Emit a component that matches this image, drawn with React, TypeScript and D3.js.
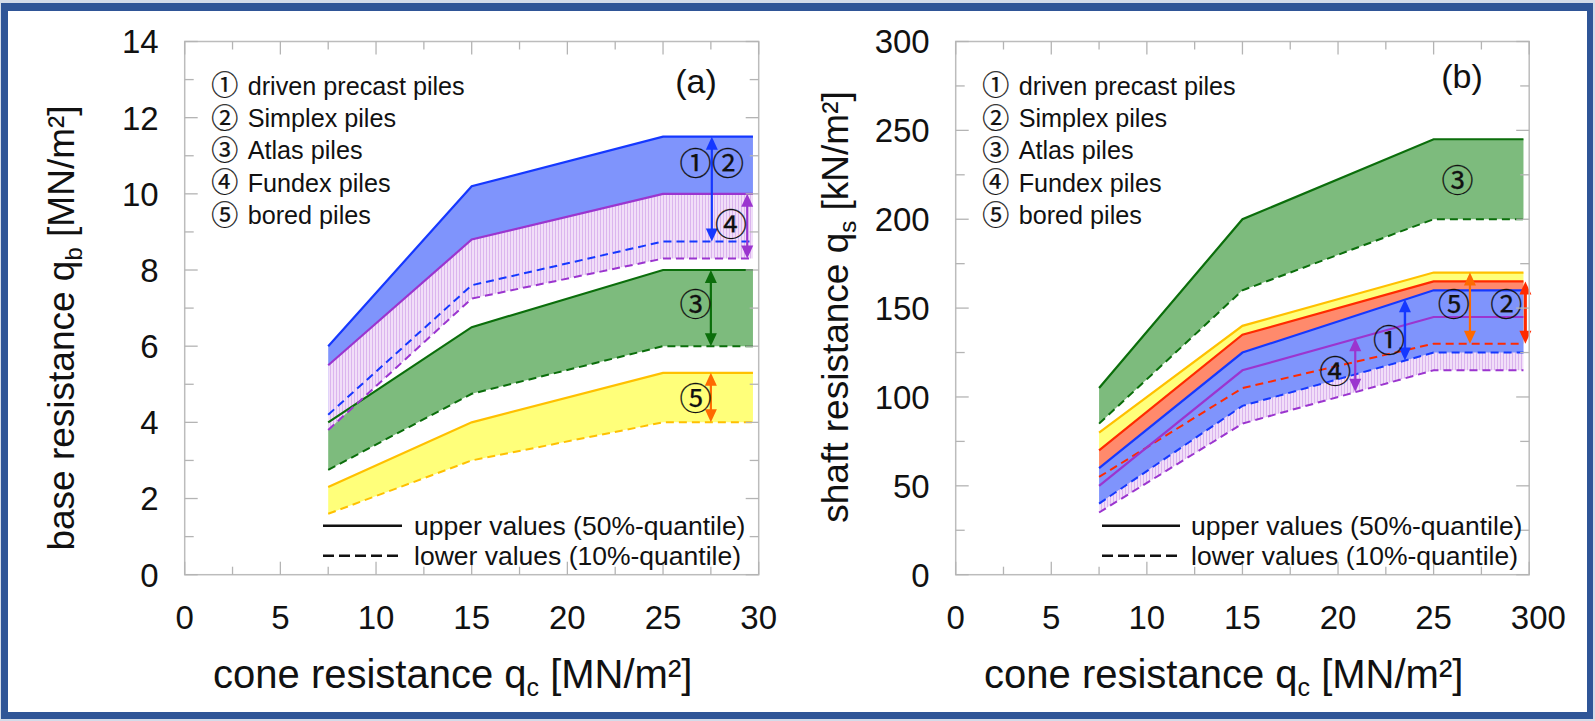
import React from 'react';
import * as d3 from 'd3';

const W = 1595;
const H = 721;

// ---------- data ----------
const qcPoints = [7.5, 15, 25, 29.7];

// panel (a) base resistance [MN/m²]
const aDrivenUpper = [6.0, 10.2, 11.5, 11.5];
const aDrivenLower = [4.2, 7.6, 8.75, 8.75];
const aFundexUpper = [5.5, 8.8, 10.0, 10.0];
const aFundexLower = [3.8, 7.25, 8.3, 8.3];
const aAtlasUpper = [4.0, 6.5, 8.0, 8.0];
const aAtlasLower = [2.75, 4.75, 6.0, 6.0];
const aBoredUpper = [2.3, 4.0, 5.3, 5.3];
const aBoredLower = [1.6, 3.0, 4.0, 4.0];

// panel (b) shaft resistance [kN/m²]
const bAtlasUpper = [105, 200, 245, 245];
const bAtlasLower = [85, 160, 200, 200];
const bBoredUpper = [80, 140, 170, 170];
const bBoredLower = [55, 105, 130, 130];
const bSimplexUpper = [70, 135, 165, 165];
const bSimplexLower = [55, 105, 130, 130];
const bDrivenUpper = [60, 125, 160, 160];
const bDrivenLower = [40, 95, 125, 125];
const bFundexUpper = [50, 115, 145, 145];
const bFundexLower = [35, 85, 115, 115];

const xTickValues = [0, 5, 10, 15, 20, 25, 30];
const aXTickLabels = ['0', '5', '10', '15', '20', '25', '30'];
const bXTickLabels = ['0', '5', '10', '15', '20', '25', '300'];
const aYTickValues = [0, 2, 4, 6, 8, 10, 12, 14];
const bYTickValues = [0, 50, 100, 150, 200, 250, 300];

const circled = ['①', '②', '③', '④', '⑤'];
const pileNames = ['driven precast piles', 'Simplex piles', 'Atlas piles', 'Fundex piles', 'bored piles'];

// ---------- styles ----------
const C = {
  blueLine: '#1538ff',
  blueFill: '#7f94fc',
  purpleLine: '#9b35cf',
  greenLine: '#0b6e0b',
  greenFill: '#7dbb7d',
  yellowLine: '#ffc000',
  yellowFill: '#ffff7a',
  redLine: '#ff2a00',
  redFill: '#ff8a6c',
  orange: '#ff6a00',
};

const FONT = '"Liberation Sans", Arial, Helvetica, sans-serif';
const CJK = '"Noto Sans CJK JP", "DejaVu Sans", sans-serif';

type Band = { upper: number[]; lower: number[]; fill: string; line: string; lowerLine?: boolean };
type Arrow = { x: number; v1: number; v2: number; color: string; width: number };
type Label = { text: string; x: number; v: number };

const aBands: Band[] = [
  { upper: aBoredUpper, lower: aBoredLower, fill: C.yellowFill, line: C.yellowLine },
  { upper: aAtlasUpper, lower: aAtlasLower, fill: C.greenFill, line: C.greenLine },
  { upper: aDrivenUpper, lower: aDrivenLower, fill: C.blueFill, line: C.blueLine },
  { upper: aFundexUpper, lower: aFundexLower, fill: 'url(#hatchPurple)', line: C.purpleLine },
];
const bBands: Band[] = [
  { upper: bAtlasUpper, lower: bAtlasLower, fill: C.greenFill, line: C.greenLine },
  { upper: bBoredUpper, lower: bBoredLower, fill: C.yellowFill, line: C.yellowLine, lowerLine: false },
  { upper: bSimplexUpper, lower: bSimplexLower, fill: C.redFill, line: C.redLine },
  { upper: bFundexUpper, lower: bFundexLower, fill: 'url(#hatchPurple)', line: C.purpleLine },
  { upper: bDrivenUpper, lower: bDrivenLower, fill: C.blueFill, line: C.blueLine },
];

const aArrows: Arrow[] = [
  { x: 27.55, v1: 11.5, v2: 8.75, color: C.blueLine, width: 2.2 },
  { x: 29.4, v1: 10.0, v2: 8.3, color: C.purpleLine, width: 2.2 },
  { x: 27.5, v1: 8.0, v2: 6.0, color: C.greenLine, width: 2.2 },
  { x: 27.5, v1: 5.3, v2: 4.0, color: C.orange, width: 2.2 },
];
const bArrows: Arrow[] = [
  { x: 23.5, v1: 155, v2: 120.5, color: C.blueLine, width: 2.4 },
  { x: 20.9, v1: 133, v2: 103, color: C.purpleLine, width: 2.2 },
  { x: 26.9, v1: 170, v2: 130, color: C.orange, width: 2.2 },
  { x: 29.8, v1: 165, v2: 130, color: C.redLine, width: 3 },
];

const aLabels: Label[] = [
  { text: '①', x: 26.7, v: 10.8 },
  { text: '②', x: 28.4, v: 10.8 },
  { text: '④', x: 28.55, v: 9.2 },
  { text: '③', x: 26.7, v: 7.1 },
  { text: '⑤', x: 26.7, v: 4.64 },
];
const bLabels: Label[] = [
  { text: '③', x: 26.25, v: 222 },
  { text: '⑤', x: 26.06, v: 152 },
  { text: '②', x: 28.8, v: 152 },
  { text: '①', x: 22.67, v: 132 },
  { text: '④', x: 19.85, v: 114.3 },
];

const PLOT_TOP = 41.5;
const PLOT_BOTTOM = 574.7;

type PanelProps = {
  x0: number;
  x1: number;
  yMax: number;
  yTicks: number[];
  yMinorStep: number;
  xLabels: string[];
  bands: Band[];
  arrows: Arrow[];
  labels: Label[];
  tag: string;
  tagX: number;
  tagY: number;
  yTitle: [string, string, string];
  yTitleX: number;
  yTitleY: number;
  legendLineX: [number, number];
  legendTextX: number;
};

function Panel(p: PanelProps) {
  const x = d3.scaleLinear().domain([0, 30]).range([p.x0, p.x1]);
  const y = d3.scaleLinear().domain([0, p.yMax]).range([PLOT_BOTTOM, PLOT_TOP]);
  const area = (b: Band) =>
    d3
      .area<number>()
      .x((_, i) => x(qcPoints[i]))
      .y0((_, i) => y(b.lower[i]))
      .y1((d) => y(d))(b.upper) || '';
  const line = (vals: number[]) =>
    d3
      .line<number>()
      .x((_, i) => x(qcPoints[i]))
      .y((d) => y(d))(vals) || '';

  const xMinor = d3.range(0, 30.001, 2.5);
  const yMinor = d3.range(0, p.yMax + 0.001, p.yMinorStep);
  const isMajorX = (v: number) => Math.abs(v % 5) < 1e-6;
  const isMajorY = (v: number) => Math.abs(v % (p.yMinorStep * 2)) < 1e-6;
  const tickColor = '#b4b4b4';

  const head = (xx: number, yy: number, dir: number, color: string, key: string) => {
    const L = 13;
    const hw = 6;
    return (
      <path
        key={key}
        d={`M${xx},${yy} L${xx - hw},${yy + dir * L} L${xx + hw},${yy + dir * L} Z`}
        fill={color}
      />
    );
  };

  return (
    <g>
      {/* fills */}
      {p.bands.map((b, i) => (
        <path key={'f' + i} d={area(b)} fill={b.fill} stroke="none" />
      ))}
      {/* lines */}
      {p.bands.map((b, i) => (
        <g key={'l' + i}>
          {b.lowerLine !== false && (
            <path d={line(b.lower)} fill="none" stroke={b.line} strokeWidth={2} strokeDasharray="8,5" />
          )}
          <path d={line(b.upper)} fill="none" stroke={b.line} strokeWidth={2.2} />
        </g>
      ))}
      {/* arrows */}
      {p.arrows.map((a, i) => {
        const ax = x(a.x);
        const ya = y(a.v1);
        const yb = y(a.v2);
        return (
          <g key={'a' + i}>
            <line x1={ax} x2={ax} y1={ya + 10} y2={yb - 10} stroke={a.color} strokeWidth={a.width} />
            {head(ax, ya, 1, a.color, 'h1')}
            {head(ax, yb, -1, a.color, 'h2')}
          </g>
        );
      })}
      {/* circled labels */}
      {p.labels.map((l, i) => (
        <text
          key={'c' + i}
          x={x(l.x)}
          y={y(l.v)}
          dy="0.36em"
          textAnchor="middle"
          fontFamily={CJK}
          fontSize={32}
          fill="#111"
          stroke="#111"
          strokeWidth={0.25}
        >
          {l.text}
        </text>
      ))}

      {/* frame */}
      <rect x={p.x0} y={PLOT_TOP} width={p.x1 - p.x0} height={PLOT_BOTTOM - PLOT_TOP} fill="none" stroke="#bcbcbc" strokeWidth={1.5} />
      {xMinor.map((v, i) => {
        const L = isMajorX(v) ? 13 : 8;
        const xx = x(v);
        return (
          <g key={'xt' + i}>
            <line x1={xx} x2={xx} y1={PLOT_BOTTOM} y2={PLOT_BOTTOM - L} stroke={tickColor} strokeWidth={1.3} />
            <line x1={xx} x2={xx} y1={PLOT_TOP} y2={PLOT_TOP + L} stroke={tickColor} strokeWidth={1.3} />
          </g>
        );
      })}
      {yMinor.map((v, i) => {
        const L = isMajorY(v) ? 13 : 9;
        const yy = y(v);
        return (
          <g key={'yt' + i}>
            <line x1={p.x0} x2={p.x0 + L} y1={yy} y2={yy} stroke={tickColor} strokeWidth={1.3} />
            <line x1={p.x1} x2={p.x1 - L} y1={yy} y2={yy} stroke={tickColor} strokeWidth={1.3} />
          </g>
        );
      })}

      {/* tick labels */}
      {xTickValues.map((v, i) => {
        const lab = p.xLabels[i];
        const fs = 33;
        const odd = lab.length === 3;
        return (
          <text
            key={'xl' + i}
            x={odd ? x(v) - fs * 0.556 : x(v)}
            y={PLOT_BOTTOM + 54}
            textAnchor={odd ? 'start' : 'middle'}
            fontFamily={FONT}
            fontSize={fs}
            fill="#111"
          >
            {lab}
          </text>
        );
      })}
      {p.yTicks.map((v, i) => (
        <text
          key={'yl' + i}
          x={p.x0 - 26}
          y={y(v)}
          dy="0.36em"
          textAnchor="end"
          fontFamily={FONT}
          fontSize={33}
          fill="#111"
        >
          {v}
        </text>
      ))}

      {/* axis titles */}
      <text
        x={p.x0 + 268}
        y={688}
        textAnchor="middle"
        fontFamily={FONT}
        fontSize={40}
        fill="#111"
      >
        cone resistance q
        <tspan fontSize={25} dy={8}>c</tspan>
        <tspan dy={-8}> [MN/m²]</tspan>
      </text>
      <text
        transform={`translate(${p.yTitleX},${p.yTitleY}) rotate(-90)`}
        textAnchor="middle"
        fontFamily={FONT}
        fontSize={37}
        fill="#111"
      >
        {p.yTitle[0]}
        <tspan fontSize={24} dy={8}>{p.yTitle[1]}</tspan>
        <tspan dy={-8}> {p.yTitle[2]}</tspan>
      </text>

      {/* panel tag */}
      <text x={p.tagX} y={p.tagY} textAnchor="middle" fontFamily={FONT} fontSize={34} fill="#111">
        {p.tag}
      </text>

      {/* pile legend */}
      {pileNames.map((n, i) => (
        <g key={'lg' + i}>
          <text
            x={p.x0 + 40}
            y={85.5 + i * 32.4}
            dy="0.36em"
            textAnchor="middle"
            fontFamily={CJK}
            fontSize={27}
            fill="#111"
            stroke="#111"
            strokeWidth={0.25}
          >
            {circled[i]}
          </text>
          <text x={p.x0 + 63} y={85.5 + i * 32.4} dy="0.36em" fontFamily={FONT} fontSize={25.2} fill="#111">
            {n}
          </text>
        </g>
      ))}

      {/* line style legend */}
      <line x1={p.legendLineX[0]} x2={p.legendLineX[1]} y1={525.7} y2={525.7} stroke="#111" strokeWidth={2.5} />
      <line
        x1={p.legendLineX[0]}
        x2={p.legendLineX[1]}
        y1={555.7}
        y2={555.7}
        stroke="#111"
        strokeWidth={2.5}
        strokeDasharray="11,5"
      />
      <text x={p.legendTextX} y={525.7} dy="0.36em" fontFamily={FONT} fontSize={26.5} fill="#111">
        upper values (50%-quantile)
      </text>
      <text x={p.legendTextX} y={555.7} dy="0.36em" fontFamily={FONT} fontSize={26.5} fill="#111">
        lower values (10%-quantile)
      </text>
    </g>
  );
}

export default function App() {
  return (
    <div style={{ position: 'absolute', left: 0, top: 0, width: W, height: H }}>
      <svg width={W} height={H} viewBox={`0 0 ${W} ${H}`} style={{ display: 'block' }}>
        <defs>
          <pattern id="hatchPurple" width={3} height={6} patternUnits="userSpaceOnUse">
            <rect width={3} height={6} fill="#f1def8" />
            <rect width={1} height={6} fill="#dbb5ee" />
          </pattern>
        </defs>
        <rect x={0} y={0} width={W} height={H} fill="#d3dbe9" />
        <rect x={1} y={3} width={W - 3} height={H - 5} fill="#2f5597" />
        <rect x={8} y={11} width={W - 16} height={H - 20} fill="#ffffff" />

        <Panel
          x0={184.7}
          x1={758.7}
          yMax={14}
          yTicks={aYTickValues}
          yMinorStep={1}
          xLabels={aXTickLabels}
          bands={aBands}
          arrows={aArrows}
          labels={aLabels}
          tag="(a)"
          tagX={696}
          tagY={93}
          yTitle={['base resistance q', 'b', '[MN/m²]']}
          yTitleX={74}
          yTitleY={328}
          legendLineX={[323, 402]}
          legendTextX={414}
        />
        <Panel
          x0={955.7}
          x1={1529.2}
          yMax={300}
          yTicks={bYTickValues}
          yMinorStep={25}
          xLabels={bXTickLabels}
          bands={bBands}
          arrows={bArrows}
          labels={bLabels}
          tag="(b)"
          tagX={1462}
          tagY={88}
          yTitle={['shaft resistance q', 's', '[kN/m²]']}
          yTitleX={848}
          yTitleY={307}
          legendLineX={[1102, 1180]}
          legendTextX={1191}
        />
      </svg>
    </div>
  );
}
